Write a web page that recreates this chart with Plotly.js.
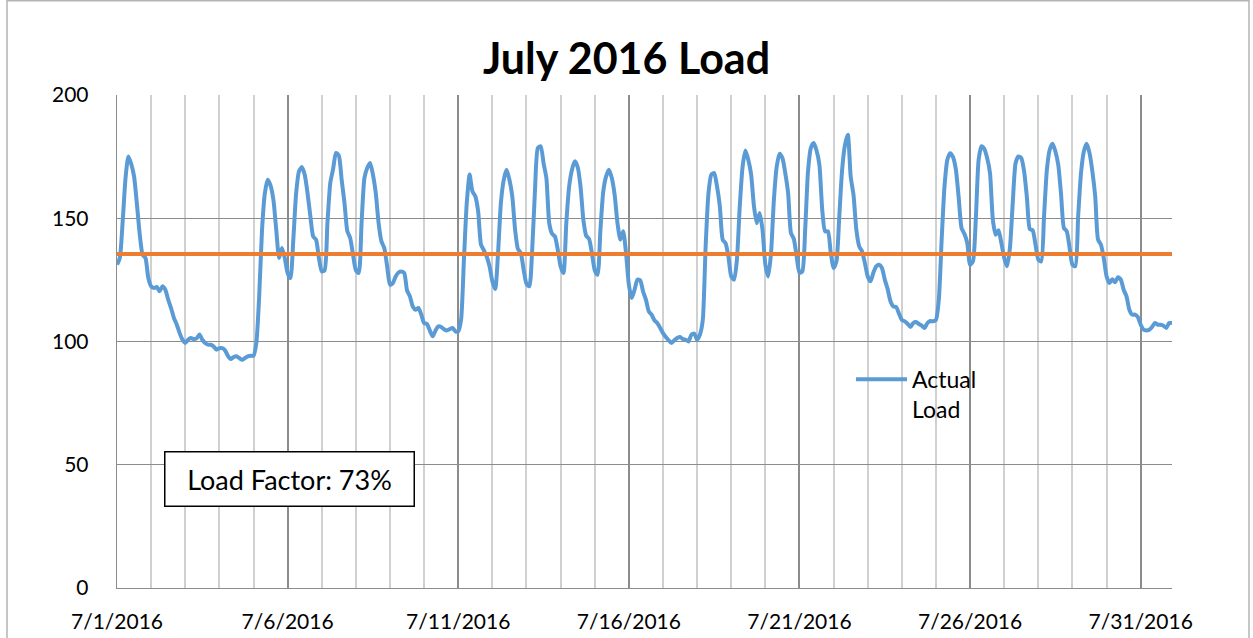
<!DOCTYPE html>
<html>
<head>
<meta charset="utf-8">
<script src="https://cdn.plot.ly/plotly-3.0.1.min.js"></script>
<style>
  html, body { margin: 0; padding: 0; background: #ffffff; }
  #chart { width: 1253px; height: 638px; }
</style>
</head>
<body>
<div id="chart"></div>
<script>
// ---- Data, one value every 2 hours from 7/1/2016 00:00 ----
const chartTitle = "July 2016 Load";
const seriesName = ["Actual", "Load"];
const loadFactorText = "Load Factor: 73%";
const startDate = "2016-07-01";
const sampleHours = 2;
const averageLoad = 135.5;
const yTicks = [0, 50, 100, 150, 200];

const loadWeek1 = [
  // 7/1
  131.2, 134, 148.8, 166.3, 175.1, 172, 167, 155.8, 143.4, 135.2, 133.9, 125.8,
  // 7/2
  122.4, 121.7, 122.1, 120.4, 122.4, 121, 117, 113.6, 109.6, 106.9, 103.5, 100.8,
  // 7/3
  99.4, 100.7, 101.4, 101, 101.3, 102.8, 100.7, 99.4, 98.7, 98.7, 98, 96.7,
  // 7/4
  97.3, 97.3, 96.4, 94.2, 92.9, 93.7, 94, 93.3, 92.6, 93.3, 94, 94.2,
  // 7/5
  94.2, 99.4, 118.3, 145.3, 160.2, 165.6, 163.2, 157.5, 145.3, 133.9, 137.9, 133.9,
  // 7/6
  127.8, 125.7, 141.3, 160.2, 169, 170.8, 167.7, 160.2, 150.8, 142.6, 141.3, 133.9,
  // 7/7
  128.4, 128.9, 148, 164.3, 170, 176.5, 175.5, 165.6, 156.2, 144.7, 142, 135.2
];
const loadWeek2 = [
  // 7/8
  128.9, 127.8, 148, 166.3, 170.4, 172.4, 167.7, 160.2, 148, 140.6, 137.9, 130.5,
  // 7/9
  123, 123.7, 126.4, 128, 128.4, 127.8, 120.7, 118.3, 114.2, 112.9, 113.6, 110.9,
  // 7/10
  107.5, 107.1, 104.5, 102.1, 104.5, 106.1, 105.9, 105, 104.5, 105, 105.5, 104.1,
  // 7/11
  104.1, 108.8, 133.2, 156.2, 167.7, 160.9, 158.9, 152.8, 139.3, 137, 134.5, 130.5,
  // 7/12
  124.4, 121.3, 135.9, 156.2, 165.6, 169.7, 165.6, 158.9, 145.3, 137.5, 135.9, 129.1,
  // 7/13
  123.4, 122.4, 137.2, 161.6, 178.5, 179.2, 172.4, 166.3, 148, 143.7, 142.6, 137.2,
  // 7/14
  130.5, 127.8, 148, 162.9, 169.7, 173.1, 170.8, 162.9, 149.4, 142.9, 141.6, 135.9
];
const loadWeek3 = [
  // 7/15
  128.9, 127.1, 145.3, 160.9, 167, 169.7, 166.3, 159.5, 148, 141.3, 144.7, 135.9,
  // 7/16
  123, 117.6, 121, 125.1, 124.8, 120.3, 117, 112.2, 110.9, 108.6, 107.5, 105.5,
  // 7/17
  103.4, 101.8, 100.5, 99.4, 100.5, 101.4, 101.8, 101, 100.7, 100, 102.8, 103.2,
  // 7/18
  100.7, 102.8, 108.8, 138.6, 160.2, 167.7, 168.3, 162.9, 154.8, 141.3, 139.9, 134.5,
  // 7/19
  126.4, 125.1, 133.2, 154.8, 171, 177.5, 173.7, 167.7, 154.8, 148, 152.1, 145.3,
  // 7/20
  131.2, 126.4, 135.9, 157.5, 171, 176.2, 174.4, 168.3, 160.2, 144, 141.6, 134.5,
  // 7/21
  127.8, 128.4, 145.3, 169, 178.5, 180.5, 177.5, 171.7, 153.5, 144.7, 144.7, 135.9
];
const loadWeek4 = [
  // 7/22
  129.8, 132.5, 150.8, 169.7, 179.8, 183.9, 167, 159.5, 145.3, 138.6, 136.6, 131.8,
  // 7/23
  126.4, 124.4, 128, 130.5, 131.1, 129.8, 125.1, 121.3, 116.3, 114.2, 114, 111.3,
  // 7/24
  108.8, 108.2, 107.2, 105.9, 107.5, 107.9, 107.1, 106.4, 105.5, 107.5, 108.3, 108.2,
  // 7/25
  108.8, 117, 141.3, 162.9, 173.7, 176.4, 174.8, 169.7, 158.2, 146, 143.7, 139.9,
  // 7/26
  131.1, 132.5, 149.4, 173.7, 179.2, 178.1, 174.4, 168.3, 149.4, 143.3, 145.1, 139.9,
  // 7/27
  133.9, 130.5, 137.9, 156.2, 172.4, 175.1, 174.4, 169, 158.2, 145.6, 145.1, 139.3,
  // 7/28
  133.2, 132.5, 150.8, 169.7, 177.8, 180.2, 177.1, 171.7, 159.5, 146, 144.7, 137.9
];
const loadWeek5 = [
  // 7/29
  131.1, 130.5, 150.8, 168.3, 177.1, 180.2, 176.4, 169, 158.9, 141.3, 139.3, 133.9,
  // 7/30
  126.4, 123.7, 125.3, 124, 126.1, 125.1, 121, 118.3, 112.9, 110.9, 110.9, 109.9,
  // 7/31
  106.8, 104.8, 104.5, 104.8, 105.9, 107.5, 106.8, 106.8, 106.4, 105.5, 107.5, 107.5
];

// ---- Build the series ----
const actualLoad = [].concat(loadWeek1, loadWeek2, loadWeek3, loadWeek4, loadWeek5);
const startMs = Date.parse(startDate + "T00:00:00Z");
function stamp(ms) {
  return new Date(ms).toISOString().slice(0, 16).replace("T", " ");
}
const times = actualLoad.map((v, i) => stamp(startMs + i * sampleHours * 3600000));
const firstTime = times[0];
const lastTime = times[times.length - 1];

const FONT = "Lato, 'Open Sans', 'Liberation Sans', sans-serif";
const DAY = 86400000;

const traces = [
  {
    type: "scatter",
    mode: "lines",
    name: seriesName.join("<br>"),
    x: times,
    y: actualLoad,
    line: { color: "#5B9BD5", width: 4, shape: "spline", smoothing: 0.6 },
    hoverinfo: "skip"
  },
  {
    type: "scatter",
    mode: "lines",
    name: "Average",
    showlegend: false,
    x: [firstTime, lastTime],
    y: [averageLoad, averageLoad],
    line: { color: "#ED7D31", width: 4 },
    hoverinfo: "skip"
  }
];

const layout = {
  width: 1253,
  height: 638,
  margin: { l: 117, r: 81, t: 95, b: 50 },
  paper_bgcolor: "#ffffff",
  plot_bgcolor: "#ffffff",
  font: { family: FONT, color: "#000000" },
  title: {
    text: "<b>" + chartTitle + "</b>",
    font: { family: FONT, size: 43, color: "#000000" },
    x: 0.5, xref: "container", xanchor: "center",
    y: 1 - 59 / 638, yref: "container", yanchor: "middle"
  },
  showlegend: true,
  legend: {
    x: (851 - 117) / 1055,
    y: (588.3 - 358) / 493,
    xanchor: "left",
    yanchor: "top",
    bgcolor: "rgba(0,0,0,0)",
    borderwidth: 0,
    itemwidth: 51,
    valign: "top",
    font: { family: FONT, size: 23, color: "#000000" }
  },
  xaxis: {
    type: "date",
    range: [firstTime, lastTime],
    tick0: startDate,
    dtick: 5 * DAY,
    tickformat: "%-m/%-d/%Y",
    ticks: "",
    ticklabelstandoff: 14,
    tickfont: { family: FONT, size: 21, color: "#000000" },
    showgrid: true,
    gridcolor: "#8c8c8c",
    gridwidth: 2,
    minor: { tick0: startDate, dtick: DAY, showgrid: true, gridcolor: "#d0d0d0", gridwidth: 2, ticks: "" },
    showline: true,
    linecolor: "#8c8c8c",
    linewidth: 1.3,
    zeroline: false,
    fixedrange: true
  },
  yaxis: {
    range: [0, 200],
    tickvals: yTicks,
    ticks: "",
    ticklabelstandoff: 23,
    tickfont: { family: FONT, size: 21, color: "#000000" },
    showgrid: true,
    gridcolor: "#8c8c8c",
    gridwidth: 1.3,
    showline: true,
    linecolor: "#8c8c8c",
    linewidth: 1.3,
    zeroline: false,
    fixedrange: true
  },
  annotations: [
    {
      text: loadFactorText,
      xref: "paper", yref: "paper",
      x: (164 - 117) / 1055, y: (588.3 - 451.7) / 493,
      xanchor: "left", yanchor: "top",
      showarrow: false,
      width: 246, height: 51,
      align: "center", valign: "middle",
      bgcolor: "#ffffff",
      bordercolor: "#000000",
      borderwidth: 1.5,
      borderpad: 1,
      font: { family: FONT, size: 27, color: "#000000" }
    }
  ],
  shapes: [
    {
      type: "rect", xref: "paper", yref: "paper",
      x0: (7 - 117) / 1055, x1: (1249 - 117) / 1055,
      y0: (588.3 - 660) / 493, y1: (588.3 - 1) / 493,
      line: { color: "#b4b4b4", width: 1.5 },
      fillcolor: "rgba(0,0,0,0)",
      layer: "below"
    }
  ]
};

Plotly.newPlot("chart", traces, layout, { staticPlot: true, displayModeBar: false });
</script>
</body>
</html>
